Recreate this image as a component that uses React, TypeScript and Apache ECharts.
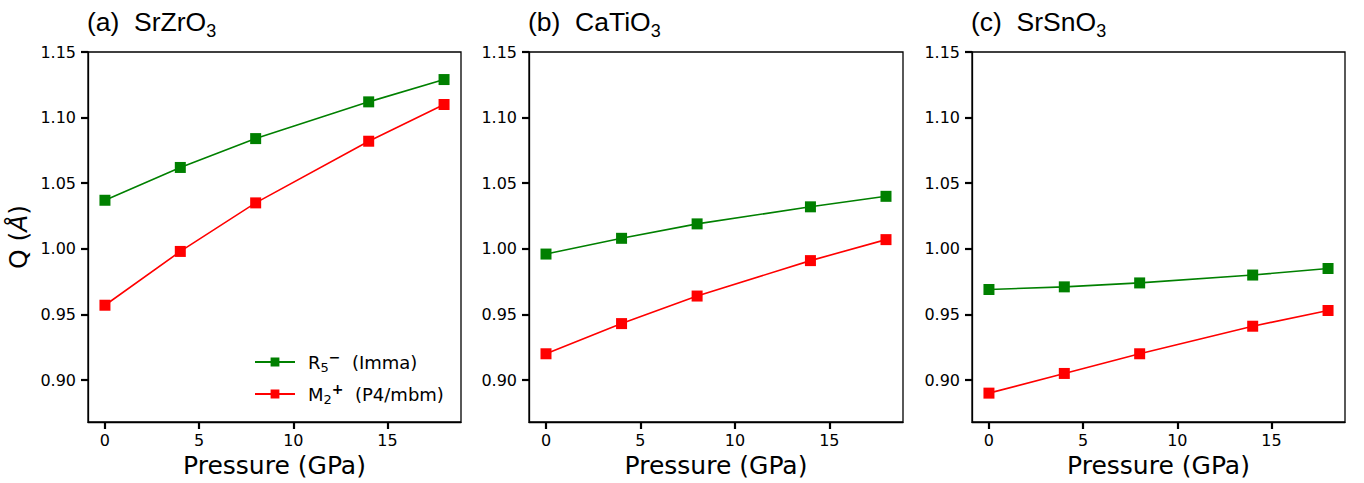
import React, { useEffect, useRef } from "react";
import * as echarts from "echarts";

const pressure = [0, 4, 8, 14, 18];
const srzro3R5 = [1.037, 1.062, 1.084, 1.112, 1.129];
const srzro3M2 = [0.957, 0.998, 1.035, 1.082, 1.11];
const catio3R5 = [0.996, 1.008, 1.019, 1.032, 1.04];
const catio3M2 = [0.92, 0.943, 0.964, 0.991, 1.007];
const srsno3R5 = [0.969, 0.971, 0.974, 0.98, 0.985];
const srsno3M2 = [0.89, 0.905, 0.92, 0.941, 0.953];

const yTicks = [0.9, 0.95, 1.0, 1.05, 1.1, 1.15];
const xTicks = [0, 5, 10, 15];

const panelTitles = ["(a)  SrZrO", "(b)  CaTiO", "(c)  SrSnO"];
const seriesNames = ["R5 (Imma)", "M2 (P4/mbm)"];
const legendLabels: Record<string, string> = {
  "R5 (Imma)": "R{sub|5}{sup|−}  (Imma)",
  "M2 (P4/mbm)": "M{sub|2}{sup|+}  (P4/mbm)",
};

const panels = [
  { r5: srzro3R5, m2: srzro3M2 },
  { r5: catio3R5, m2: catio3M2 },
  { r5: srsno3R5, m2: srsno3M2 },
];

const GREEN = "#008000";
const RED = "#ff0000";
const FONT = "DejaVu Sans";

export default function App() {
  const ref = useRef<HTMLDivElement>(null);
  useEffect(() => {
    if (!ref.current) return;
    const chart = echarts.init(ref.current, undefined, { renderer: "svg" });
    const lefts = [88, 529, 972];
    const widths = [373, 374, 373];
    const grids = lefts.map((l, i) => ({
      left: l,
      top: 52,
      width: widths[i],
      height: 370,
      show: true,
      borderColor: "#000",
      borderWidth: 1.3,
      backgroundColor: "transparent",
      outerBoundsMode: "none",
      containLabel: false,
    }));
    const xAxes = lefts.map((_, i) => ({
      type: "value",
      gridIndex: i,
      min: -0.9,
      max: 18.9,
      splitLine: { show: false },
      axisLine: { show: true, onZero: false, lineStyle: { color: "#000", width: 1.3 } },
      axisTick: { show: true, length: 7, lineStyle: { color: "#000", width: 2.2 }, customValues: xTicks },
      axisLabel: {
        color: "#000",
        fontFamily: FONT,
        fontSize: 16,
        margin: 10,
        customValues: xTicks,
        formatter: (v: number) => String(Math.round(v)),
      },
      name: "Pressure (GPa)",
      nameLocation: "middle",
      nameGap: 28,
      nameTextStyle: { color: "#000", fontFamily: FONT, fontSize: 25 },
    }));
    const yAxes = lefts.map((_, i) => ({
      type: "value",
      gridIndex: i,
      min: 0.868,
      max: 1.15,
      splitLine: { show: false },
      axisLine: { show: true, onZero: false, lineStyle: { color: "#000", width: 1.3 } },
      axisTick: { show: true, length: 7, lineStyle: { color: "#000", width: 2.2 }, customValues: yTicks },
      axisLabel: {
        color: "#000",
        fontFamily: FONT,
        fontSize: 16,
        margin: 12,
        customValues: yTicks,
        formatter: (v: number) => v.toFixed(2),
      },
      name: i === 0 ? "Q ({i|Å})" : "",
      nameLocation: "middle",
      nameGap: 57,
      nameTextStyle: {
        color: "#000",
        fontFamily: FONT,
        fontSize: 25,
        rich: { i: { fontStyle: "italic", fontFamily: FONT, fontSize: 25, color: "#000" } },
      },
    }));
    const series: any[] = [];
    panels.forEach((p, i) => {
      series.push({
        type: "line",
        name: seriesNames[0],
        xAxisIndex: i,
        yAxisIndex: i,
        data: pressure.map((x, k) => [x, p.r5[k]]),
        symbol: "rect",
        symbolSize: 11,
        lineStyle: { color: GREEN, width: 1.6 },
        itemStyle: { color: GREEN },
      });
      series.push({
        type: "line",
        name: seriesNames[1],
        xAxisIndex: i,
        yAxisIndex: i,
        data: pressure.map((x, k) => [x, p.m2[k]]),
        symbol: "rect",
        symbolSize: 11,
        lineStyle: { color: RED, width: 1.6 },
        itemStyle: { color: RED },
      });
    });
    const titles = lefts.map((l, i) => ({
      text: panelTitles[i] + "{sub|3}",
      left: l - 1,
      top: 4,
      padding: 0,
      textStyle: {
        color: "#000",
        fontFamily: "Liberation Sans",
        fontSize: 26.5,
        fontWeight: "normal",
        lineHeight: 36,
        rich: {
          sub: {
            fontFamily: "Liberation Sans",
            fontSize: 18,
            color: "#000",
            verticalAlign: "bottom",
            lineHeight: 18,
          },
        },
      },
    }));
    chart.setOption({
      animation: false,
      backgroundColor: "#fff",
      title: titles,
      grid: grids,
      xAxis: xAxes,
      yAxis: yAxes,
      legend: {
        data: seriesNames,
        orient: "vertical",
        left: 254,
        top: 350,
        itemWidth: 40,
        itemHeight: 11,
        itemGap: 8,
        padding: 0,
        selectedMode: false,
        formatter: (name: string) => legendLabels[name],
        textStyle: {
          color: "#000",
          fontFamily: FONT,
          fontSize: 18,
          lineHeight: 24,
          padding: [0, 0, 0, 8],
          rich: {
            sub: { fontFamily: FONT, fontSize: 13, verticalAlign: "bottom", lineHeight: 12, color: "#000" },
            sup: { fontFamily: FONT, fontSize: 14, verticalAlign: "top", lineHeight: 13, color: "#000", fontWeight: "bold" },
          },
        },
      },
      series,
    });
    return () => chart.dispose();
  }, []);
  return (
    <div
      ref={ref}
      style={{ position: "fixed", left: 0, top: 0, width: 1364, height: 483, background: "#fff" }}
    />
  );
}
